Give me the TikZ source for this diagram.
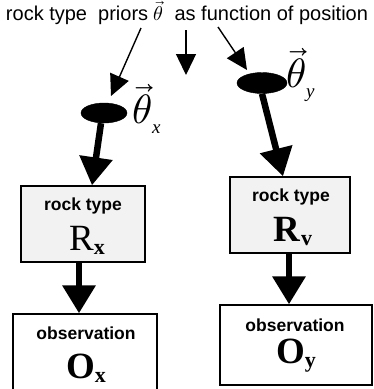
\documentclass[tikz,border=0pt]{standalone}
\usepackage{fontspec}
\usepackage{unicode-math}
\setmainfont{Liberation Sans}
\setmathfont{Latin Modern Math}
\newfontfamily\seriffont{Liberation Serif}
\usetikzlibrary{arrows.meta,shapes.geometric}
\tikzset{
  thinarrow/.style={line width=1.4pt,-{Triangle[length=21pt,width=20pt]}},
  thickarrow/.style={line width=6.5pt,-{Triangle[length=28pt,width=32pt]}},
  blob/.style={ellipse,fill=black,draw=black,inner sep=0pt},
  rockbox/.style={draw=black,line width=1.4pt,fill=black!5,inner sep=0pt},
  obsbox/.style={draw=black,line width=1.4pt,fill=white,inner sep=0pt},
  boxlabel/.style={font=\bfseries\fontsize{17.5}{20}\selectfont,inner sep=0pt},
  bigsym/.style={font=\seriffont\fontsize{37}{40}\selectfont,inner sep=0pt},
  thetalab/.style={font=\fontsize{41}{44}\selectfont,inner sep=0pt}
}
\newcommand{\subsc}[1]{\raisebox{-4pt}{\fontsize{22}{22}\selectfont\bfseries #1}}
\newcommand{\thsub}[1]{\raisebox{-10pt}{\seriffont\itshape\fontsize{19}{19}\selectfont #1}}
\begin{document}
\begin{tikzpicture}[x=1pt,y=-1pt]
\useasboundingbox (0,0) rectangle (374,389);
\clip (0,0) rectangle (374,389);
% title
\node[inner sep=0pt,font=\fontsize{20}{22}\selectfont] (title) at (187,13)
  {rock type\ \ priors\ $\vec{\theta}$\ \ as function of position};
% title arrow coordinates
\coordinate (la) at (141,28);
\coordinate (lt) at (111,96);
\coordinate (ma) at (186,30);
\coordinate (mt) at (186,75);
\coordinate (ra) at (218,27);
\coordinate (rt) at (247,70);
\draw[thinarrow] (la) -- (lt);
\draw[thinarrow] (ma) -- (mt);
\draw[thinarrow] (ra) -- (rt);
% ellipses
\node[blob,minimum width=46pt,minimum height=20pt] (ex) at (104,113) {};
\node[blob,minimum width=50pt,minimum height=21pt] (ey) at (262,83) {};
\node[thetalab,anchor=west] (tx) at (132,109) {$\vec{\theta}$\thsub{x}};
\node[thetalab,anchor=west] (ty) at (286,75) {$\vec{\theta}$\thsub{y}};
% rock boxes
\node[rockbox,minimum width=124pt,minimum height=76pt] (rx) at (83,224) {};
\node[rockbox,minimum width=120pt,minimum height=76pt] (ry) at (290,215) {};
\node[boxlabel] at (83,206) {rock type};
\node[boxlabel] at (291,197) {rock type};
\node[bigsym] at (87,240) {R\subsc{x}};
\node[bigsym] at (293,231) {\textbf{R}\subsc{v}};
% observation boxes
\node[obsbox,minimum width=144pt,minimum height=90pt] (ox) at (85,359) {};
\node[obsbox,minimum width=152pt,minimum height=80pt] (oy) at (296,345) {};
\node[boxlabel] at (86,333) {observation};
\node[boxlabel] at (295,325) {observation};
\node[bigsym] at (86,368) {\textbf{O}\subsc{x}};
\node[bigsym] at (296,356) {\textbf{O}\subsc{y}};
% thick arrows
\draw[thickarrow] ([xshift=-3pt]ex.south) -- (rx.north -| 92,0);
\draw[thickarrow] (ey.south) -- (ry.north -| 283,0);
\draw[thickarrow] (rx.south -| 79,0) -- (ox.north -| 79,0);
\draw[thickarrow] (ry.south -| 289,0) -- (oy.north -| 289,0);
\end{tikzpicture}
\end{document}
